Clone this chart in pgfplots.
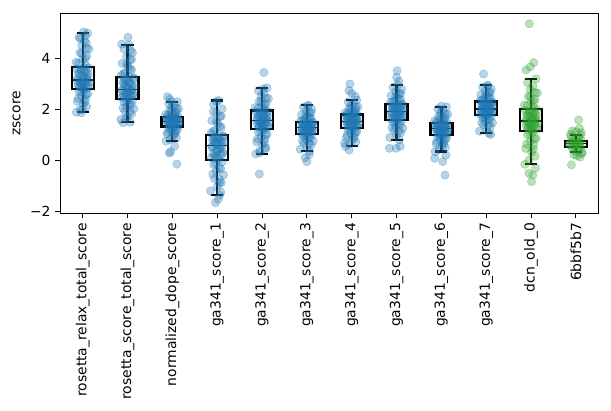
\documentclass[border=0pt]{standalone}
\usepackage{fontspec}
\setmainfont{DejaVu Sans}
\usepackage{pgfplots}
\pgfplotsset{compat=1.18}
\usepgfplotslibrary{statistics}
\definecolor{mplblue}{HTML}{1F77B4}
\definecolor{mplgreen}{HTML}{2CA02C}
\pgfplotsset{
  bpts/.style={only marks, mark=*, mark size=3pt, mark options={draw=mplblue, fill=mplblue, opacity=0.32}},
  gpts/.style={only marks, mark=*, mark size=3pt, mark options={draw=mplgreen, fill=mplgreen, opacity=0.32}},
  bx/.style={draw=black, line width=1.6pt, solid, mark=none, boxplot/draw direction=y, boxplot/box extend=0.49, boxplot/whisker extend=0.27, boxplot/every median/.style={line width=1pt}},
}
\begin{document}
\begin{tikzpicture}
\begin{axis}[name=ax, scale only axis, width=387.4pt, height=144pt,
  xmin=-0.5, xmax=11.5, ymin=-2.08, ymax=5.76,
  xtick={0,1,2,3,4,5,6,7,8,9,10,11},
  xticklabels={rosetta\_relax\_total\_score, rosetta\_score\_total\_score, normalized\_dope\_score, ga341\_score\_1, ga341\_score\_2, ga341\_score\_3, ga341\_score\_4, ga341\_score\_5, ga341\_score\_6, ga341\_score\_7, dcn\_old\_0, 6bbf5b7},
  xticklabel style={rotate=90, anchor=east, font=\fontsize{10}{12}\selectfont},
  ytick={-2,0,2,4}, yticklabels={−2,0,2,4},
  yticklabel style={font=\fontsize{10}{12}\selectfont},
  ylabel={zscore}, ylabel style={font=\fontsize{10}{12}\selectfont},
  tick align=outside, tick pos=left, major tick length=3.5pt,
  every tick/.style={black, line width=0.8pt},
  axis line style={line width=0.8pt},
  /pgf/number format/assume math mode=true,
  clip=false,
]
% category 0
\addplot[bpts] table[row sep=\\, x expr=\thisrow{j}+0, y=y] {
j y\\
0.03 2.75\\ -0.08 2.68\\ 0.11 2.60\\ -0.02 2.51\\ 0.06 2.41\\ -0.12 2.31\\ 0.01 2.21\\ 0.09 2.10\\ -0.05 1.99\\ -0.14 1.88\\
0.04 2.82\\ 0.13 2.85\\ -0.07 2.89\\ 0.00 2.92\\ -0.10 2.95\\ 0.07 2.99\\ -0.03 3.02\\ 0.15 3.06\\ -0.06 3.09\\ 0.02 3.12\\
0.10 3.17\\ -0.11 3.22\\ 0.05 3.27\\ -0.01 3.33\\ 0.12 3.38\\ -0.09 3.43\\ 0.08 3.48\\ -0.04 3.54\\ -0.13 3.59\\ 0.03 3.64\\
0.06 3.74\\ -0.15 3.84\\ 0.00 3.96\\ 0.09 4.09\\ -0.06 4.22\\ 0.14 4.36\\ -0.02 4.51\\ 0.04 4.67\\ -0.08 4.82\\ 0.11 4.98\\
0.02 5.03\\ -0.05 4.78\\ 0.06 4.88\\ -0.03 1.86\\ 0.08 4.60\\ 0.00 2.00\\
-0.03 2.71\\ 0.08 2.57\\ -0.10 2.43\\ 0.05 2.29\\ 0.00 2.83\\ -0.06 2.89\\ 0.12 2.95\\ -0.01 3.00\\ 0.07 3.06\\ -0.12 3.12\\
0.02 3.19\\ 0.10 3.28\\ -0.08 3.37\\ 0.04 3.46\\ -0.04 3.55\\ 0.13 3.63\\ -0.09 3.80\\ 0.06 4.00\\ -0.02 4.19\\ 0.09 4.39\\
};
% category 1
\addplot[bpts] table[row sep=\\, x expr=\thisrow{j}+1, y=y] {
j y\\
0.11 2.35\\ -0.08 2.28\\ 0.04 2.20\\ -0.02 2.11\\ 0.14 2.02\\ -0.06 1.92\\ 0.09 1.82\\ 0.00 1.71\\ -0.15 1.60\\ 0.06 1.49\\
0.03 2.42\\ -0.13 2.46\\ -0.04 2.50\\ 0.08 2.53\\ -0.09 2.57\\ 0.12 2.61\\ -0.01 2.65\\ 0.05 2.69\\ -0.11 2.72\\ 0.10 2.76\\
0.02 2.80\\ -0.06 2.85\\ 0.15 2.90\\ -0.03 2.95\\ 0.07 3.00\\ -0.10 3.05\\ 0.00 3.10\\ -0.07 3.15\\ 0.13 3.20\\ 0.04 3.25\\
-0.14 3.33\\ -0.05 3.43\\ 0.09 3.55\\ 0.01 3.67\\ -0.12 3.80\\ 0.06 3.93\\ -0.02 4.07\\ 0.11 4.22\\ -0.08 4.37\\ 0.03 4.52\\
0.01 4.82\\ -0.13 4.55\\ -0.10 1.47\\ 0.07 4.30\\ -0.04 1.65\\
-0.03 2.31\\ 0.08 2.17\\ -0.10 2.04\\ 0.05 1.90\\ 0.00 2.44\\ -0.06 2.50\\ 0.12 2.56\\ -0.01 2.63\\ 0.07 2.69\\ -0.12 2.75\\
0.02 2.83\\ 0.10 2.91\\ -0.08 2.99\\ 0.04 3.07\\ -0.04 3.16\\ 0.13 3.24\\ -0.09 3.40\\ 0.06 3.58\\ -0.02 3.77\\ 0.09 3.96\\
};
% category 2
\addplot[bpts] table[row sep=\\, x expr=\thisrow{j}+2, y=y] {
j y\\
0.03 1.29\\ -0.08 1.25\\ 0.11 1.19\\ -0.02 1.14\\ 0.06 1.08\\ -0.12 1.02\\ 0.01 0.96\\ 0.09 0.89\\ -0.05 0.82\\ -0.14 0.75\\
0.04 1.33\\ 0.13 1.35\\ -0.07 1.37\\ 0.00 1.39\\ -0.10 1.41\\ 0.07 1.44\\ -0.03 1.46\\ 0.15 1.48\\ -0.06 1.50\\ 0.02 1.52\\
0.10 1.54\\ -0.11 1.56\\ 0.05 1.58\\ -0.01 1.59\\ 0.12 1.61\\ -0.09 1.63\\ 0.08 1.65\\ -0.04 1.67\\ -0.13 1.68\\ 0.03 1.70\\
0.06 1.74\\ -0.15 1.79\\ 0.00 1.84\\ 0.09 1.90\\ -0.06 1.95\\ 0.14 2.02\\ -0.02 2.08\\ 0.04 2.15\\ -0.08 2.22\\ 0.11 2.29\\
-0.11 2.49\\ -0.06 2.40\\ -0.04 0.34\\ -0.07 0.28\\ 0.10 -0.15\\ 0.05 0.55\\ -0.02 2.30\\
-0.03 1.26\\ 0.08 1.18\\ -0.10 1.09\\ 0.05 1.01\\ 0.00 1.34\\ -0.06 1.38\\ 0.12 1.41\\ -0.01 1.45\\ 0.07 1.48\\ -0.12 1.52\\
0.02 1.55\\ 0.10 1.58\\ -0.08 1.61\\ 0.04 1.64\\ -0.04 1.67\\ 0.13 1.70\\ -0.09 1.77\\ 0.06 1.86\\ -0.02 1.94\\ 0.09 2.03\\
};
% category 3
\addplot[bpts] table[row sep=\\, x expr=\thisrow{j}+3, y=y] {
j y\\
0.11 -0.06\\ -0.08 -0.17\\ 0.04 -0.29\\ -0.02 -0.43\\ 0.14 -0.57\\ -0.06 -0.72\\ 0.09 -0.87\\ 0.00 -1.04\\ -0.15 -1.20\\ 0.06 -1.37\\
0.03 0.04\\ -0.13 0.10\\ -0.04 0.16\\ 0.08 0.21\\ -0.09 0.27\\ 0.12 0.33\\ -0.01 0.39\\ 0.05 0.45\\ -0.11 0.50\\ 0.10 0.56\\
0.02 0.61\\ -0.06 0.65\\ 0.15 0.69\\ -0.03 0.73\\ 0.07 0.77\\ -0.10 0.81\\ 0.00 0.85\\ -0.07 0.89\\ 0.13 0.93\\ 0.04 0.97\\
-0.14 1.06\\ -0.05 1.17\\ 0.09 1.29\\ 0.01 1.42\\ -0.12 1.56\\ 0.06 1.71\\ -0.02 1.85\\ 0.11 2.02\\ -0.08 2.18\\ 0.03 2.34\\
-0.04 -1.66\\ 0.02 -1.53\\ 0.08 -1.25\\ -0.02 2.30\\ 0.05 -0.90\\ -0.09 1.90\\
-0.03 -0.13\\ 0.08 -0.33\\ -0.10 -0.54\\ 0.05 -0.75\\ 0.00 0.07\\ -0.06 0.17\\ 0.12 0.26\\ -0.01 0.36\\ 0.07 0.46\\ -0.12 0.55\\
0.02 0.63\\ 0.10 0.70\\ -0.08 0.76\\ 0.04 0.83\\ -0.04 0.90\\ 0.13 0.96\\ -0.09 1.13\\ 0.06 1.33\\ -0.02 1.53\\ 0.09 1.73\\
};
% category 4
\addplot[bpts] table[row sep=\\, x expr=\thisrow{j}+4, y=y] {
j y\\
0.03 1.19\\ -0.08 1.11\\ 0.11 1.02\\ -0.02 0.92\\ 0.06 0.82\\ -0.12 0.72\\ 0.01 0.61\\ 0.09 0.49\\ -0.05 0.37\\ -0.14 0.25\\
0.04 1.26\\ 0.13 1.29\\ -0.07 1.32\\ 0.00 1.36\\ -0.10 1.39\\ 0.07 1.42\\ -0.03 1.45\\ 0.15 1.49\\ -0.06 1.52\\ 0.02 1.55\\
0.10 1.59\\ -0.11 1.63\\ 0.05 1.67\\ -0.01 1.70\\ 0.12 1.74\\ -0.09 1.78\\ 0.08 1.82\\ -0.04 1.86\\ -0.13 1.89\\ 0.03 1.93\\
0.06 1.99\\ -0.15 2.07\\ 0.00 2.15\\ 0.09 2.24\\ -0.06 2.32\\ 0.14 2.42\\ -0.02 2.52\\ 0.04 2.63\\ -0.08 2.73\\ 0.11 2.84\\
0.04 3.44\\ -0.06 -0.54\\ 0.03 2.80\\ -0.05 0.30\\ 0.07 0.45\\
-0.03 1.14\\ 0.08 0.99\\ -0.10 0.84\\ 0.05 0.70\\ 0.00 1.27\\ -0.06 1.33\\ 0.12 1.38\\ -0.01 1.44\\ 0.07 1.49\\ -0.12 1.55\\
0.02 1.61\\ 0.10 1.67\\ -0.08 1.73\\ 0.04 1.80\\ -0.04 1.86\\ 0.13 1.92\\ -0.09 2.04\\ 0.06 2.17\\ -0.02 2.31\\ 0.09 2.44\\
};
% category 5
\addplot[bpts] table[row sep=\\, x expr=\thisrow{j}+5, y=y] {
j y\\
0.11 1.01\\ -0.08 0.95\\ 0.04 0.89\\ -0.02 0.82\\ 0.14 0.75\\ -0.06 0.67\\ 0.09 0.60\\ 0.00 0.52\\ -0.15 0.43\\ 0.06 0.35\\
0.03 1.05\\ -0.13 1.08\\ -0.04 1.10\\ 0.08 1.12\\ -0.09 1.15\\ 0.12 1.17\\ -0.01 1.20\\ 0.05 1.22\\ -0.11 1.24\\ 0.10 1.27\\
0.02 1.29\\ -0.06 1.31\\ 0.15 1.34\\ -0.03 1.36\\ 0.07 1.38\\ -0.10 1.41\\ 0.00 1.43\\ -0.07 1.45\\ 0.13 1.48\\ 0.04 1.50\\
-0.14 1.54\\ -0.05 1.59\\ 0.09 1.65\\ 0.01 1.72\\ -0.12 1.78\\ 0.06 1.85\\ -0.02 1.93\\ 0.11 2.00\\ -0.08 2.08\\ 0.03 2.16\\
0.00 -0.05\\ -0.04 0.10\\ 0.05 0.22\\ 0.02 2.12\\
-0.03 0.97\\ 0.08 0.87\\ -0.10 0.76\\ 0.05 0.66\\ 0.00 1.06\\ -0.06 1.10\\ 0.12 1.14\\ -0.01 1.18\\ 0.07 1.22\\ -0.12 1.26\\
0.02 1.30\\ 0.10 1.34\\ -0.08 1.38\\ 0.04 1.42\\ -0.04 1.46\\ 0.13 1.49\\ -0.09 1.58\\ 0.06 1.67\\ -0.02 1.77\\ 0.09 1.87\\
};
% category 6
\addplot[bpts] table[row sep=\\, x expr=\thisrow{j}+6, y=y] {
j y\\
0.03 1.23\\ -0.08 1.18\\ 0.11 1.11\\ -0.02 1.04\\ 0.06 0.97\\ -0.12 0.89\\ 0.01 0.81\\ 0.09 0.72\\ -0.05 0.64\\ -0.14 0.55\\
0.04 1.28\\ 0.13 1.31\\ -0.07 1.34\\ 0.00 1.36\\ -0.10 1.39\\ 0.07 1.41\\ -0.03 1.44\\ 0.15 1.47\\ -0.06 1.49\\ 0.02 1.52\\
0.10 1.54\\ -0.11 1.57\\ 0.05 1.60\\ -0.01 1.62\\ 0.12 1.65\\ -0.09 1.67\\ 0.08 1.70\\ -0.04 1.73\\ -0.13 1.75\\ 0.03 1.78\\
0.06 1.82\\ -0.15 1.86\\ 0.00 1.92\\ 0.09 1.97\\ -0.06 2.03\\ 0.14 2.09\\ -0.02 2.16\\ 0.04 2.22\\ -0.08 2.29\\ 0.11 2.36\\
-0.04 2.99\\ -0.06 2.73\\ 0.00 2.62\\ -0.16 0.67\\ -0.06 0.40\\ 0.08 2.50\\
-0.03 1.20\\ 0.08 1.09\\ -0.10 0.98\\ 0.05 0.87\\ 0.00 1.30\\ -0.06 1.34\\ 0.12 1.38\\ -0.01 1.43\\ 0.07 1.47\\ -0.12 1.51\\
0.02 1.56\\ 0.10 1.60\\ -0.08 1.64\\ 0.04 1.69\\ -0.04 1.73\\ 0.13 1.77\\ -0.09 1.85\\ 0.06 1.93\\ -0.02 2.02\\ 0.09 2.10\\
};
% category 7
\addplot[bpts] table[row sep=\\, x expr=\thisrow{j}+7, y=y] {
j y\\
0.11 1.54\\ -0.08 1.48\\ 0.04 1.41\\ -0.02 1.33\\ 0.14 1.25\\ -0.06 1.17\\ 0.09 1.08\\ 0.00 0.99\\ -0.15 0.89\\ 0.06 0.80\\
0.03 1.60\\ -0.13 1.63\\ -0.04 1.66\\ 0.08 1.70\\ -0.09 1.73\\ 0.12 1.76\\ -0.01 1.79\\ 0.05 1.83\\ -0.11 1.86\\ 0.10 1.89\\
0.02 1.93\\ -0.06 1.96\\ 0.15 1.99\\ -0.03 2.02\\ 0.07 2.05\\ -0.10 2.08\\ 0.00 2.11\\ -0.07 2.14\\ 0.13 2.17\\ 0.04 2.20\\
-0.14 2.26\\ -0.05 2.32\\ 0.09 2.38\\ 0.01 2.45\\ -0.12 2.53\\ 0.06 2.61\\ -0.02 2.69\\ 0.11 2.78\\ -0.08 2.86\\ 0.03 2.95\\
0.01 3.51\\ 0.00 3.25\\ 0.05 3.10\\ -0.16 0.47\\ -0.01 0.47\\ 0.08 0.55\\
-0.03 1.50\\ 0.08 1.39\\ -0.10 1.27\\ 0.05 1.15\\ 0.00 1.61\\ -0.06 1.67\\ 0.12 1.72\\ -0.01 1.78\\ 0.07 1.83\\ -0.12 1.89\\
0.02 1.94\\ 0.10 1.99\\ -0.08 2.04\\ 0.04 2.10\\ -0.04 2.15\\ 0.13 2.20\\ -0.09 2.29\\ 0.06 2.40\\ -0.02 2.51\\ 0.09 2.62\\
};
% category 8
\addplot[bpts] table[row sep=\\, x expr=\thisrow{j}+8, y=y] {
j y\\
0.03 0.96\\ -0.08 0.91\\ 0.11 0.85\\ -0.02 0.78\\ 0.06 0.72\\ -0.12 0.65\\ 0.01 0.57\\ 0.09 0.50\\ -0.05 0.42\\ -0.14 0.34\\
0.04 1.00\\ 0.13 1.03\\ -0.07 1.05\\ 0.00 1.08\\ -0.10 1.10\\ 0.07 1.13\\ -0.03 1.15\\ 0.15 1.18\\ -0.06 1.20\\ 0.02 1.23\\
0.10 1.25\\ -0.11 1.27\\ 0.05 1.30\\ -0.01 1.32\\ 0.12 1.34\\ -0.09 1.37\\ 0.08 1.39\\ -0.04 1.41\\ -0.13 1.44\\ 0.03 1.46\\
0.06 1.50\\ -0.15 1.55\\ 0.00 1.61\\ 0.09 1.67\\ -0.06 1.73\\ 0.14 1.80\\ -0.02 1.87\\ 0.04 1.94\\ -0.08 2.02\\ 0.11 2.09\\
0.08 -0.58\\ -0.15 0.08\\ 0.03 -0.05\\ 0.10 0.20\\ 0.00 2.12\\
-0.03 0.93\\ 0.08 0.83\\ -0.10 0.73\\ 0.05 0.63\\ 0.00 1.02\\ -0.06 1.06\\ 0.12 1.10\\ -0.01 1.14\\ 0.07 1.18\\ -0.12 1.22\\
0.02 1.26\\ 0.10 1.30\\ -0.08 1.34\\ 0.04 1.38\\ -0.04 1.42\\ 0.13 1.45\\ -0.09 1.53\\ 0.06 1.63\\ -0.02 1.72\\ 0.09 1.81\\
};
% category 9
\addplot[bpts] table[row sep=\\, x expr=\thisrow{j}+9, y=y] {
j y\\
0.11 1.73\\ -0.08 1.67\\ 0.04 1.61\\ -0.02 1.54\\ 0.14 1.47\\ -0.06 1.39\\ 0.09 1.31\\ 0.00 1.23\\ -0.15 1.14\\ 0.06 1.06\\
0.03 1.77\\ -0.13 1.80\\ -0.04 1.82\\ 0.08 1.85\\ -0.09 1.87\\ 0.12 1.90\\ -0.01 1.92\\ 0.05 1.95\\ -0.11 1.97\\ 0.10 2.00\\
0.02 2.02\\ -0.06 2.05\\ 0.15 2.08\\ -0.03 2.11\\ 0.07 2.14\\ -0.10 2.17\\ 0.00 2.20\\ -0.07 2.23\\ 0.13 2.26\\ 0.04 2.29\\
-0.14 2.33\\ -0.05 2.38\\ 0.09 2.44\\ 0.01 2.51\\ -0.12 2.57\\ 0.06 2.64\\ -0.02 2.72\\ 0.11 2.79\\ -0.08 2.87\\ 0.03 2.95\\
-0.06 3.38\\ 0.10 1.01\\ 0.04 2.90\\
-0.03 1.69\\ 0.08 1.59\\ -0.10 1.48\\ 0.05 1.38\\ 0.00 1.79\\ -0.06 1.83\\ 0.12 1.87\\ -0.01 1.91\\ 0.07 1.95\\ -0.12 1.99\\
0.02 2.04\\ 0.10 2.09\\ -0.08 2.13\\ 0.04 2.18\\ -0.04 2.23\\ 0.13 2.28\\ -0.09 2.37\\ 0.06 2.46\\ -0.02 2.56\\ 0.09 2.66\\
};
% category 10
\addplot[gpts] table[row sep=\\, x expr=\thisrow{j}+10, y=y] {
j y\\
0.03 1.09\\ -0.08 0.99\\ 0.11 0.87\\ -0.02 0.74\\ 0.06 0.61\\ -0.12 0.46\\ 0.01 0.32\\ 0.09 0.16\\ -0.05 0.00\\ -0.14 -0.16\\
0.04 1.18\\ 0.13 1.22\\ -0.07 1.26\\ 0.00 1.29\\ -0.10 1.33\\ 0.07 1.37\\ -0.03 1.41\\ 0.15 1.45\\ -0.06 1.48\\ 0.02 1.52\\
0.10 1.56\\ -0.11 1.61\\ 0.05 1.66\\ -0.01 1.71\\ 0.12 1.76\\ -0.09 1.80\\ 0.08 1.85\\ -0.04 1.90\\ -0.13 1.95\\ 0.03 2.00\\
0.06 2.08\\ -0.15 2.17\\ 0.00 2.28\\ 0.09 2.39\\ -0.06 2.51\\ 0.14 2.64\\ -0.02 2.77\\ 0.04 2.91\\ -0.08 3.05\\ 0.11 3.19\\
-0.04 5.35\\ 0.06 3.83\\ -0.02 3.66\\ -0.11 3.54\\ 0.01 -0.84\\ 0.04 -0.58\\ -0.05 -0.51\\ 0.10 -0.30\\
-0.03 1.03\\ 0.08 0.83\\ -0.10 0.63\\ 0.05 0.43\\ 0.00 1.20\\ -0.06 1.26\\ 0.12 1.32\\ -0.01 1.39\\ 0.07 1.45\\ -0.12 1.51\\
0.02 1.59\\ 0.10 1.67\\ -0.08 1.75\\ 0.04 1.83\\ -0.04 1.91\\ 0.13 1.99\\ -0.09 2.14\\ 0.06 2.31\\ -0.02 2.49\\ 0.09 2.66\\
};
% category 11
\addplot[gpts] table[row sep=\\, x expr=\thisrow{j}+11, y=y] {
j y\\
0.11 0.50\\ -0.08 0.46\\ 0.04 0.41\\ -0.02 0.36\\ 0.14 0.31\\
-0.06 0.55\\ 0.09 0.57\\ 0.00 0.60\\ -0.15 0.62\\ 0.06 0.64\\
0.03 0.66\\ -0.13 0.68\\ -0.04 0.70\\ 0.08 0.72\\ -0.09 0.74\\
0.12 0.79\\ -0.01 0.83\\ 0.05 0.88\\ -0.11 0.93\\ 0.10 0.99\\
0.06 1.58\\ 0.08 1.25\\ -0.08 1.15\\ 0.12 1.08\\ -0.12 1.02\\ 0.00 1.12\\ -0.05 0.22\\ 0.09 0.12\\ 0.13 0.26\\ -0.10 -0.18\\ 0.02 0.18\\
};
% boxes
\addplot[bx, boxplot prepared={draw position=0, lower whisker=1.88, lower quartile=2.80, median=3.14, upper quartile=3.67, upper whisker=4.98}] coordinates {};
\addplot[bx, boxplot prepared={draw position=1, lower whisker=1.49, lower quartile=2.40, median=2.78, upper quartile=3.27, upper whisker=4.52}] coordinates {};
\addplot[bx, boxplot prepared={draw position=2, lower whisker=0.75, lower quartile=1.32, median=1.53, upper quartile=1.71, upper whisker=2.29}] coordinates {};
\addplot[bx, boxplot prepared={draw position=3, lower whisker=-1.37, lower quartile=0.01, median=0.59, upper quartile=0.99, upper whisker=2.34}] coordinates {};
\addplot[bx, boxplot prepared={draw position=4, lower whisker=0.25, lower quartile=1.24, median=1.57, upper quartile=1.95, upper whisker=2.84}] coordinates {};
\addplot[bx, boxplot prepared={draw position=5, lower whisker=0.35, lower quartile=1.04, median=1.28, upper quartile=1.51, upper whisker=2.16}] coordinates {};
\addplot[bx, boxplot prepared={draw position=6, lower whisker=0.55, lower quartile=1.27, median=1.53, upper quartile=1.79, upper whisker=2.36}] coordinates {};
\addplot[bx, boxplot prepared={draw position=7, lower whisker=0.80, lower quartile=1.58, median=1.91, upper quartile=2.22, upper whisker=2.95}] coordinates {};
\addplot[bx, boxplot prepared={draw position=8, lower whisker=0.34, lower quartile=0.99, median=1.24, upper quartile=1.47, upper whisker=2.09}] coordinates {};
\addplot[bx, boxplot prepared={draw position=9, lower whisker=1.06, lower quartile=1.76, median=2.01, upper quartile=2.30, upper whisker=2.95}] coordinates {};
\addplot[bx, boxplot prepared={draw position=10, lower whisker=-0.16, lower quartile=1.16, median=1.54, upper quartile=2.02, upper whisker=3.19}] coordinates {};
\addplot[bx, boxplot prepared={draw position=11, lower whisker=0.31, lower quartile=0.53, median=0.65, upper quartile=0.76, upper whisker=0.99}] coordinates {};
\end{axis}
\pgfresetboundingbox
\path ([shift={(-43.4pt,-142.3pt)}]ax.south west) rectangle ([shift={(9.1pt,9.6pt)}]ax.north east);
\end{tikzpicture}
\end{document}
